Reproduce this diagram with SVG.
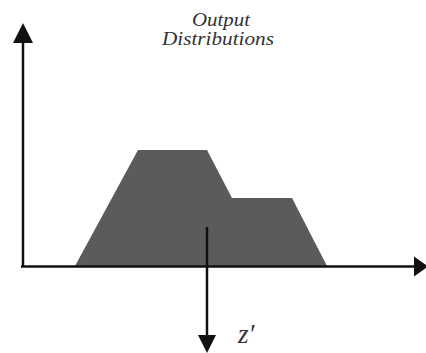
<svg xmlns="http://www.w3.org/2000/svg" width="426" height="353" viewBox="0 0 426 353">
<style>
.ax{stroke:#111;stroke-width:2.5;fill:none}
.hd{fill:#111;stroke:none}
.lbl{font-family:"Liberation Serif",serif;font-style:italic;fill:#333}
</style>
<rect width="426" height="353" fill="#fff"/>
<g id="distribution">
<polygon points="75,266 138,150 207,150 232,198 292,198 327,266" fill="#5b5b5b"/>
</g>
<g id="connectors">
<line class="ax" x1="23" y1="40" x2="23" y2="267"/>
<polygon class="hd" points="23,23 13,43 33,43"/>
<line class="ax" x1="21" y1="266.5" x2="418" y2="266.5"/>
<polygon class="hd" points="428,266.5 414,256.5 414,276.5"/>
<line class="ax" x1="207" y1="227" x2="207" y2="338"/>
<polygon class="hd" points="207,353 198,335 216,335"/>
</g>
<g id="title">
<text class="lbl" x="221" y="26" text-anchor="middle" font-size="18" textLength="58" lengthAdjust="spacingAndGlyphs">Output</text>
<text class="lbl" x="218" y="45" text-anchor="middle" font-size="18" textLength="112" lengthAdjust="spacingAndGlyphs">Distributions</text>
</g>
<g id="zlabel">
<text class="lbl" x="238" y="343" font-size="27">z′</text>
</g>
</svg>
